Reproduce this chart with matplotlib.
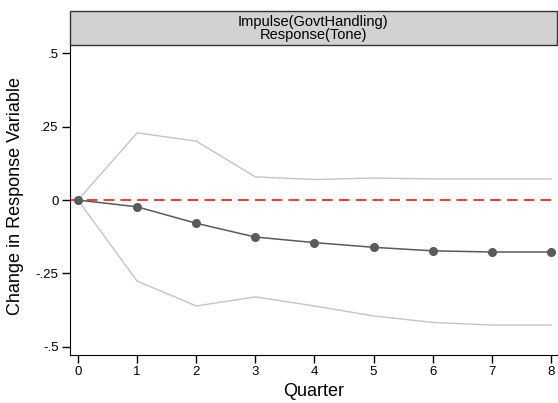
import matplotlib
matplotlib.use("Agg")
import matplotlib.pyplot as plt
from matplotlib.patches import Rectangle

plt.rcParams["font.family"] = ["Liberation Sans", "DejaVu Sans"]

# Impulse response of Tone to GovtHandling, by quarter
quarter = [0, 1, 2, 3, 4, 5, 6, 7, 8]
irf = [0.0, -0.023, -0.079, -0.126, -0.145, -0.161, -0.173, -0.177, -0.177]
ci_upper = [0.0, 0.229, 0.201, 0.079, 0.070, 0.075, 0.072, 0.072, 0.072]
ci_lower = [0.0, -0.276, -0.361, -0.330, -0.361, -0.395, -0.417, -0.426, -0.426]

y_ticks = [-0.5, -0.25, 0, 0.25, 0.5]
y_labels = ["-.5", "-.25", "0", ".25", ".5"]
header = "Impulse(GovtHandling)\nResponse(Tone)"


def main():
    fig = plt.figure(figsize=(5.58, 4.03), dpi=100)
    ax = fig.add_axes([0.1249, 0.1184, 0.873, 0.7696])

    ax.plot(quarter, ci_upper, color="#c4c4c4", lw=1.0)
    ax.plot(quarter, ci_lower, color="#c4c4c4", lw=1.0)
    ax.axhline(0, color="#ff0000", lw=1.1, ls=(0, (7, 4)), zorder=3)
    ax.plot(quarter, irf, color="#5a5a5a", lw=1.1, marker="o", ms=5.5,
            zorder=4)

    ax.set_xlim(-0.14, 8.1)
    ax.set_ylim(-0.529, 0.528)
    ax.set_xticks(quarter)
    ax.set_yticks(y_ticks)
    ax.set_yticklabels(y_labels)
    ax.tick_params(labelsize=9.5, length=6, width=1, pad=2, colors="black")
    ax.spines["top"].set_visible(False)
    ax.spines["right"].set_visible(False)

    # axis titles placed like the Stata original
    fig.text(15.5 / 558, 1 - 196 / 403, "Change in Response Variable",
             rotation=90, ha="center", va="center", fontsize=13)
    fig.text(0.5615, 1 - 391 / 403, "Quarter", ha="center", va="center",
             fontsize=13)

    # grey header strip on top of the plot region
    hdr_h = 34 / 310.3
    ax.add_patch(Rectangle((0, 1), 1, hdr_h, transform=ax.transAxes,
                           facecolor="#d2d2d2", edgecolor="#333333",
                           lw=1.0, clip_on=False))
    ax.text(0.5, 1 + hdr_h / 2, header, transform=ax.transAxes,
            ha="center", va="center", fontsize=10.5, linespacing=0.9)

    fig.savefig("out.png", dpi=100)
    plt.close(fig)


if __name__ == "__main__":
    main()
